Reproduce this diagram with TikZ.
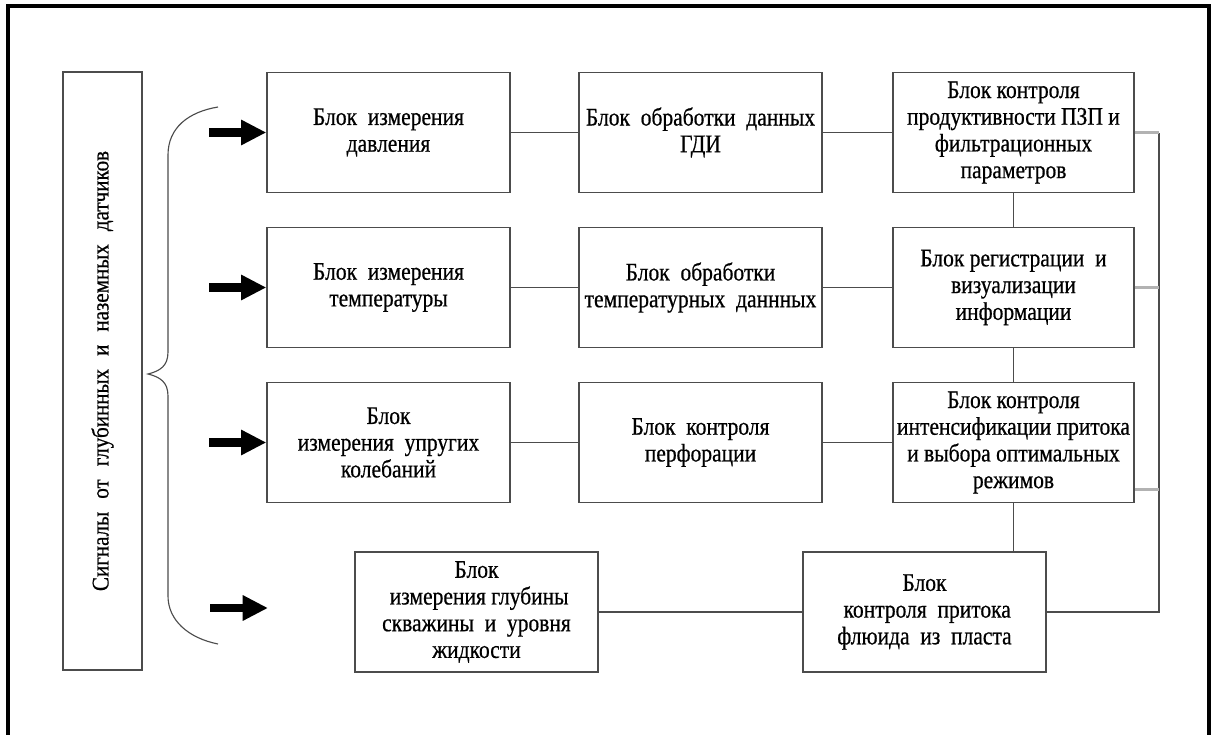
\documentclass[tikz,border=0pt]{standalone}
\usepackage{fontspec}
\setmainfont{Liberation Serif}
\newfontfamily\uzkiy[FakeStretch=0.85, FakeBold=0.6]{Liberation Serif}
\newfontfamily\uzkiyB[FakeStretch=0.88, FakeBold=0.6]{Liberation Serif}
\usetikzlibrary{arrows.meta,positioning,calc}
\definecolor{liniya}{gray}{0.3}

\begin{document}
\begin{tikzpicture}[x=0.025cm, y=-0.025cm,
            blok/.style={draw=liniya, line width=0.9pt, align=center, inner sep=2pt,
                         minimum width=6.075cm, minimum height=3cm,
                         font=\uzkiy\fontsize{18}{19}\selectfont},
            svyaz/.style={draw=liniya, line width=0.9pt},
            otvod/.style={draw=gray!60, line width=1.8pt},
            signal/.style={draw=black, line width=6pt, -{Triangle[length=18pt,width=17pt]}}]
        \useasboundingbox (0,0) rectangle (1216,735);
        % ramka
        \draw[line width=2.2pt] (8,735) -- (8,6) -- (1209,6) -- (1209,735);

        % istochnik signalov
        \node[blok, rotate=90, minimum width=14.95cm, minimum height=1.975cm,
              font=\uzkiyB\fontsize{17}{18}\selectfont] (datchiki) at (102.5,371)
              {\makebox[11cm][s]{Сигналы от глубинных и наземных датчиков}};
        \draw[svyaz, line width=0.8pt] (218,107) .. controls (188,112) and (168,128) .. (168,155)
              -- (168,352) .. controls (168,366) and (160,371) .. (148,374)
              .. controls (160,377) and (168,382) .. (168,396)
              -- (168,596) .. controls (168,620) and (188,638) .. (218,644);

        % bloki
        \node[blok] (a1) at (388.5,132.5) {Блок~ измерения\\давления};
        \node[blok] (b1) at (700.5,132.5) {Блок~ обработки~ данных\\ГДИ};
        \node[blok, minimum width=6.025cm] (c1) at (1013.5,132.5)
              {Блок контроля\\продуктивности ПЗП и\\фильтрационных\\параметров};
        \node[blok] (a2) at (388.5,287.5) {Блок~ измерения\\температуры};
        \node[blok] (b2) at (700.5,287.5) {Блок~ обработки\\температурных~ даннных};
        \node[blok, minimum width=6.025cm] (c2) at (1013.5,287.5)
              {Блок регистрации~ и\\визуализации\\информации};
        \node[blok] (a3) at (388.5,442.5) {Блок\\измерения~ упругих\\колебаний};
        \node[blok] (b3) at (700.5,442.5) {Блок~ контроля\\перфорации};
        \node[blok, minimum width=6.025cm] (c3) at (1013.5,442.5)
              {Блок контроля\\интенсификации притока\\и выбора оптимальных\\режимов};
        \node[blok] (a4) at (476.5,612) {Блок\\~измерения глубины\\скважины~ и~ уровня\\жидкости};
        \node[blok] (d) at (924.5,612) {Блок\\~контроля~ притока\\флюида~ из~ пласта};

        % vkhodnye signaly
        \foreach \n in {1,2,3}
            \draw[signal] ($(a\n.west)+(-57,0)$) -- (a\n.west);
        \coordinate (s4) at (210,608);
        \coordinate (e4) at (268,608);
        \draw[signal] (s4) -- (e4);

        % svyazi
        \foreach \n in {1,2,3} {
            \draw[svyaz] (a\n) -- (b\n);
            \draw[svyaz] (b\n) -- (c\n);
        }
        \draw[svyaz] (c1) -- (c2);
        \draw[svyaz] (c2) -- (c3);
        \draw[svyaz] (c3.south) -- (c3.south |- d.north);
        \draw[svyaz] (a4) -- (d);

        % shina
        \coordinate (shina) at (1159,133);
        \coordinate (c3o) at ($(c3.east)+(0,47)$);
        \draw[svyaz] (d.east) -| (shina);
        \draw[otvod] (c1.east) -- (c1.east -| shina);
        \draw[otvod] (c2.east) -- (c2.east -| shina);
        \draw[otvod] (c3o) -- (c3o -| shina);
\end{tikzpicture}
\end{document}
